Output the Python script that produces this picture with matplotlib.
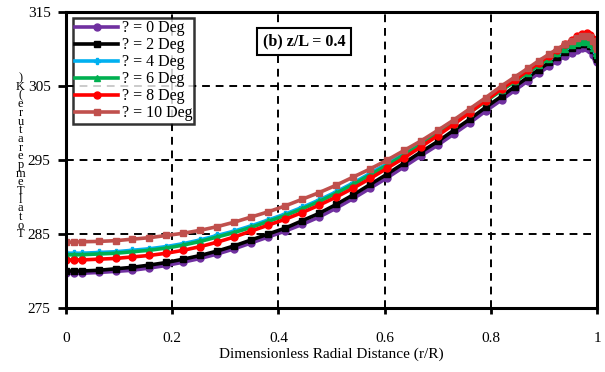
import matplotlib
matplotlib.use("Agg")
import matplotlib.pyplot as plt

plt.rcParams['font.family'] = ['Liberation Serif', 'DejaVu Serif']

# radial positions (r/R)
r = [0, 0.015, 0.03, 0.062, 0.094, 0.125, 0.157, 0.189, 0.221, 0.253, 0.285,
     0.317, 0.349, 0.381, 0.413, 0.445, 0.477, 0.509, 0.541, 0.573, 0.605,
     0.637, 0.669, 0.70, 0.73, 0.76, 0.79, 0.82, 0.845, 0.87, 0.89, 0.91,
     0.925, 0.94, 0.952, 0.963, 0.972, 0.98, 0.987, 0.993, 0.997, 1.0]

t_0deg = [279.7, 279.7, 279.7, 279.8, 279.95, 280.1, 280.4, 280.75, 281.2, 281.7, 282.3,
          283.0, 283.8, 284.6, 285.4, 286.3, 287.3, 288.5, 289.8, 291.2, 292.6,
          294.1, 295.6, 297.0, 298.5, 300.0, 301.6, 303.1, 304.4, 305.7, 306.7, 307.7,
          308.4, 309.0, 309.5, 309.9, 310.1, 310.1, 309.8, 309.2, 308.6, 308.2]
t_2deg = [280.0, 280.0, 280.0, 280.1, 280.3, 280.5, 280.8, 281.15, 281.6, 282.1, 282.7,
          283.4, 284.2, 285.0, 285.8, 286.8, 287.8, 289.0, 290.3, 291.7, 293.1,
          294.6, 296.1, 297.5, 299.0, 300.5, 302.1, 303.6, 304.9, 306.2, 307.2, 308.2,
          308.9, 309.6, 310.1, 310.5, 310.7, 310.7, 310.4, 309.8, 309.1, 308.6]
t_4deg = [282.4, 282.4, 282.4, 282.5, 282.6, 282.8, 283.0, 283.3, 283.7, 284.2, 284.8,
          285.4, 286.1, 286.9, 287.7, 288.6, 289.6, 290.7, 291.9, 293.2, 294.5,
          295.9, 297.3, 298.7, 300.1, 301.5, 303.0, 304.5, 305.7, 306.9, 307.9, 308.8,
          309.5, 310.1, 310.6, 310.9, 311.1, 311.1, 310.8, 310.2, 309.6, 309.3]
t_6deg = [282.2, 282.2, 282.2, 282.3, 282.4, 282.6, 282.8, 283.1, 283.5, 284.0, 284.6,
          285.2, 285.9, 286.7, 287.5, 288.4, 289.4, 290.5, 291.7, 293.0, 294.3,
          295.7, 297.1, 298.5, 299.9, 301.4, 302.9, 304.4, 305.6, 306.8, 307.8, 308.7,
          309.4, 310.0, 310.5, 310.8, 311.0, 311.0, 310.7, 310.1, 309.5, 309.2]
t_8deg = [281.5, 281.5, 281.5, 281.6, 281.7, 281.9, 282.1, 282.4, 282.8, 283.3, 283.9,
          284.6, 285.4, 286.2, 287.0, 287.9, 288.9, 290.0, 291.2, 292.5, 293.9,
          295.3, 296.8, 298.3, 299.8, 301.4, 303.0, 304.6, 305.8, 307.1, 308.1, 309.1,
          309.9, 310.6, 311.2, 311.7, 312.0, 312.1, 311.9, 311.4, 310.7, 310.2]
t_10deg = [283.9, 283.9, 283.95, 284.0, 284.1, 284.3, 284.5, 284.8, 285.1, 285.5, 286.0,
           286.6, 287.3, 288.0, 288.8, 289.7, 290.6, 291.6, 292.7, 293.8, 295.0,
           296.3, 297.6, 299.0, 300.4, 301.9, 303.4, 305.0, 306.2, 307.4, 308.4, 309.3,
           310.0, 310.6, 311.1, 311.5, 311.7, 311.8, 311.6, 311.1, 310.4, 310.0]

labels = ["? = 0 Deg", "? = 2 Deg", "? = 4 Deg", "? = 6 Deg", "? = 8 Deg", "? = 10 Deg"]
series = [t_0deg, t_2deg, t_4deg, t_6deg, t_8deg, t_10deg]
colors = ["#7030A0", "#000000", "#00B0F0", "#00B050", "#FF0000", "#C0504D"]
markers = ["o", "s", "P", "^", "o", "s"]

fig = plt.figure(figsize=(6.05, 3.72), dpi=100)
ax = fig.add_axes([0.109, 0.172, 0.878, 0.796])

for y, lab, c, m in zip(series, labels, colors, markers):
    ax.plot(r, y, color=c, marker=m, markersize=5, linewidth=2.6, label=lab)

ax.set_xlim(0, 1)
ax.set_ylim(275, 315)
ax.set_xticks([0, 0.2, 0.4, 0.6, 0.8, 1])
ax.set_xticklabels(["0", "0.2", "0.4", "0.6", "0.8", "1"])
ax.set_yticks([275, 285, 295, 305, 315])
ax.grid(True, color="black", linestyle=(0, (4, 3)), linewidth=1.4)
for s in ax.spines.values():
    s.set_linewidth(2.2)
ax.tick_params(axis="x", direction="out", length=4, width=2, pad=13, labelsize=11)
ax.tick_params(axis="y", direction="out", length=6, width=2, pad=5, labelsize=11)

ax.set_xlabel("Dimensionless Radial Distance (r/R)", fontsize=11, labelpad=2)

leg = ax.legend(loc="upper left", bbox_to_anchor=(0.007, 0.99), fontsize=11.5,
                frameon=True, fancybox=False, edgecolor="black", handlelength=2.7,
                borderpad=0.15, labelspacing=0.06, handletextpad=0.2, borderaxespad=0.2)
leg.get_frame().set_linewidth(1.8)

ax.text(0.448, 0.9, "(b) z/L = 0.4", transform=ax.transAxes, ha="center", va="center",
        fontsize=11.5, fontweight="bold",
        bbox=dict(boxstyle="square,pad=0.35", facecolor="white", edgecolor="black", linewidth=1.5))

# y label drawn as stacked upright characters
ylab = "Total Temperature (K)".replace(" ", "")[::-1]
y_top, y_bot = 0.79, 0.37
step = (y_top - y_bot) / (len(ylab) - 1)
for i, ch in enumerate(ylab):
    fig.text(0.034, y_top - i * step, ch, ha="center", va="center", fontsize=9)

fig.savefig("out.png", dpi=100)
